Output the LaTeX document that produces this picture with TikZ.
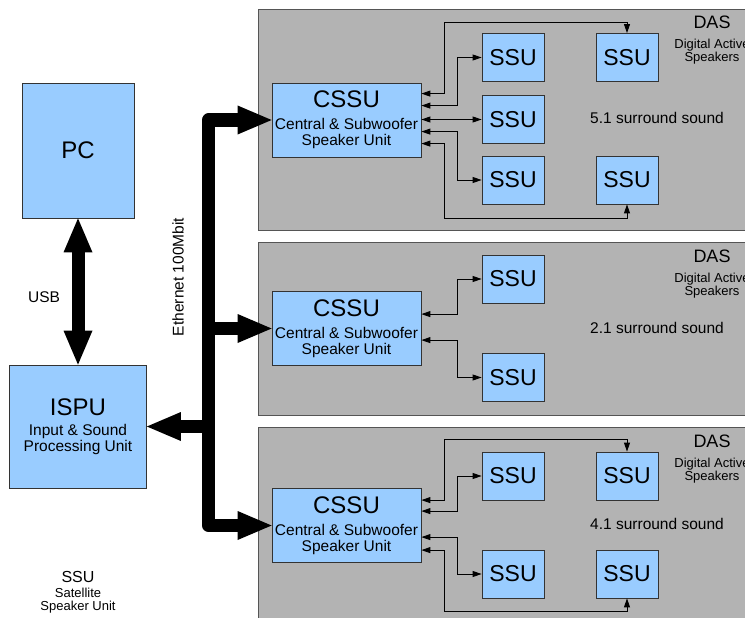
\documentclass[tikz,border=0pt]{standalone}
\usepackage{fontspec}
\setmainfont{Liberation Sans}
\usetikzlibrary{arrows.meta,calc,positioning}
\definecolor{unitblue}{HTML}{99CCFF}
\definecolor{dasgray}{HTML}{B3B3B3}
\definecolor{dasedge}{HTML}{555555}
\definecolor{unitedge}{HTML}{333333}
\newcommand{\cssutext}{{\fontsize{24}{24}\selectfont CSSU}\\[6pt]Central \& Subwoofer\\Speaker Unit}

\begin{document}
\begin{tikzpicture}[x=1pt,y=-1pt,
  das/.style={draw=dasedge,fill=dasgray,line width=0.8pt},
  unit/.style={draw=unitedge,fill=unitblue,line width=0.8pt,inner sep=0pt,align=center},
  ssu/.style={unit,minimum width=62pt,minimum height=48pt,font=\fontsize{23}{23}\selectfont},
  cssu/.style={unit,minimum width=149pt,minimum height=74pt,font=\fontsize{15.5}{16}\selectfont},
  txt/.style={inner sep=0pt,align=center,font=\fontsize{15.5}{16}\selectfont},
  dashead/.style={inner sep=0pt,font=\fontsize{18}{18}\selectfont},
  dassub/.style={inner sep=0pt,align=center,font=\fontsize{13}{12}\selectfont},
  link/.style={<->,>={Triangle[length=9pt,width=6pt]},line width=0.9pt},
  bus/.style={line width=13pt,line join=round,>={Triangle[length=34pt,width=29pt,line width=0pt]}}]
\useasboundingbox (0,0) rectangle (745,618);
\clip (0,0) rectangle (745,618);

\foreach \t/\b in {9/230,242/415,427/640}
  \draw[das] (258,\t) rectangle (760,\b);

\foreach \n/\y in {1/22,2/256,3/441}{
  \node[dashead] (das\n) at (712,\y) {DAS};
  \node[dassub,below=10pt of das\n] (dassub\n) {Digital Active\\Speakers};
}
\node[txt] (snd1) at (657,118) {5.1 surround sound};
\node[txt] (snd2) at (657,328) {2.1 surround sound};
\node[txt] (snd3) at (657,524) {4.1 surround sound};

\node[unit,minimum width=112pt,minimum height=135pt,font=\fontsize{24}{24}\selectfont] (pc) at (78,150.5) {PC};
\node[unit,minimum width=137pt,minimum height=123pt,font=\fontsize{15.5}{16}\selectfont] (ispu) at (78,426.5)
  {{\fontsize{24}{24}\selectfont ISPU}\\[4pt]Input \& Sound\\Processing Unit};
\node[txt] (usb) at (44,297) {USB};
\node[txt,rotate=90] (eth) at (178,277) {Ethernet 100Mbit};
\node[txt,font=\fontsize{13}{12.5}\selectfont] (legend) at (78,592)
  {{\fontsize{16}{16}\selectfont SSU}\\[3pt]Satellite\\Speaker Unit};

\node[cssu] (c1) at (346.5,120) {\cssutext};
\node[cssu] (c2) at (346.5,328.5) {\cssutext};
\node[cssu] (c3) at (346.5,525.5) {\cssutext};

\node[ssu] (s1a) at (513,57.5) {SSU};
\node[ssu] (s1m) at (513,119.5) {SSU};
\node[ssu] (s1c) at (513,180) {SSU};
\node[ssu] (s1b) at (627,57.5) {SSU};
\node[ssu] (s1d) at (627,180) {SSU};
\node[ssu] (s2a) at (513,279) {SSU};
\node[ssu] (s2b) at (513,377.5) {SSU};
\node[ssu] (s3a) at (513,476) {SSU};
\node[ssu] (s3c) at (513,574) {SSU};
\node[ssu] (s3b) at (627,476) {SSU};
\node[ssu] (s3d) at (627,574) {SSU};

\draw[link] ([yshift=-11pt]c1.north east) -| (444,22) -| (s1b.north);
\draw[link] ([yshift=-23pt]c1.north east) -- ++(36,0) |- (s1a.west);
\draw[link] (c1.east |- s1m.west) -- (s1m.west);
\draw[link] ([yshift=-49pt]c1.north east) -- ++(36,0) |- (s1c.west);
\draw[link] ([yshift=-61pt]c1.north east) -| (444,218) -| (s1d.south);

\draw[link] ([yshift=-23pt]c2.north east) -- ++(36,0) |- (s2a.west);
\draw[link] ([yshift=-49pt]c2.north east) -- ++(36,0) |- (s2b.west);

\draw[link] ([yshift=-12pt]c3.north east) -| (444,439) -| (s3b.north);
\draw[link] ([yshift=-23pt]c3.north east) -- ++(36,0) |- (s3a.west);
\draw[link] ([yshift=-49pt]c3.north east) -- ++(36,0) |- (s3c.west);
\draw[link] ([yshift=-62pt]c3.north east) -| (444,611) -| (s3d.south);

\coordinate (bus) at (208.5,0);
\draw[bus,<->] (c1.west) -| (bus |- c3.west) -- (c3.west);
\draw[bus,->] (bus |- c2.west) -- (c2.west);
\draw[bus,->] (bus |- ispu.east) -- (ispu.east);
\draw[bus,<->] (pc.south) -- (ispu.north);
\end{tikzpicture}
\end{document}
